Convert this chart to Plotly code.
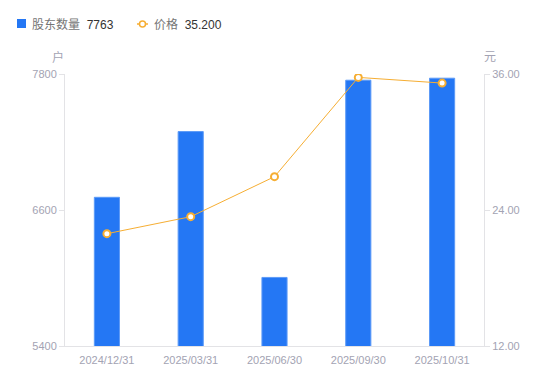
import plotly.graph_objects as go

categories = ["2024/12/31", "2025/03/31", "2025/06/30", "2025/09/30", "2025/10/31"]
holders = [6712, 7292, 6005, 7745, 7763]
price = [21.91, 23.41, 26.94, 35.70, 35.20]
left_ticks = [5400, 6600, 7800]
right_ticks = [12, 24, 36]
right_tick_labels = ["12.00", "24.00", "36.00"]

BLUE = "#2477F4"
ORANGE = "#F6AE33"
TICK = "#A3A3B3"
AXIS = "#E3E3E6"
FONT = "Liberation Sans, Arial, Noto Sans CJK SC, sans-serif"

fig = go.Figure()
fig.add_trace(go.Bar(
    x=categories, y=holders, name="股东数量", width=0.3,
    marker=dict(color=BLUE, line=dict(color="#5C9AF7", width=1)),
    yaxis="y", showlegend=False,
))
fig.add_trace(go.Scatter(
    x=categories, y=price, name="价格", mode="lines+markers",
    line=dict(color=ORANGE, width=1),
    marker=dict(symbol="circle", size=7, color="white", line=dict(color=ORANGE, width=2)),
    yaxis="y2", showlegend=False,
))

fig.update_layout(
    width=550, height=381,
    margin=dict(l=57, r=74, t=66, b=43),
    paper_bgcolor="white", plot_bgcolor="white",
    font=dict(family=FONT, size=11, color=TICK),
    xaxis=dict(
        type="category", showgrid=False, showline=True, linecolor=AXIS, linewidth=1,
        ticks="", tickfont=dict(size=11, color=TICK), ticklabelstandoff=4,
    ),
    yaxis=dict(
        range=[5400, 7800], tickvals=left_ticks, showgrid=False, zeroline=False,
        showline=True, linecolor=AXIS, linewidth=1, ticks="outside", ticklen=5,
        tickcolor=AXIS, tickfont=dict(size=11, color=TICK),
    ),
    yaxis2=dict(
        range=[12, 36], tickvals=right_ticks, ticktext=right_tick_labels,
        overlaying="y", side="right", showgrid=False, zeroline=False,
        showline=True, linecolor=AXIS, linewidth=1, ticks="outside", ticklen=5,
        tickcolor=AXIS, tickfont=dict(size=11, color=TICK),
    ),
)

# plot area in page pixels: x 65..484, y 74..346
def px(x):
    return (x - 65) / 419

def py(y):
    return (346 - y) / 272

# axis unit labels
fig.add_annotation(text="户", xref="paper", yref="paper", x=px(58), y=py(57),
                   showarrow=False, font=dict(size=12, color=TICK), xanchor="center", yanchor="middle")
fig.add_annotation(text="元", xref="paper", yref="paper", x=px(490), y=py(57),
                   showarrow=False, font=dict(size=12, color=TICK), xanchor="center", yanchor="middle")

# legend (top)
fig.add_shape(type="rect", xref="paper", yref="paper",
              x0=px(17), x1=px(26), y0=py(28), y1=py(19),
              fillcolor=BLUE, line=dict(width=0))
fig.add_annotation(text="<span style='color:#757575'>股东数量</span>  <span style='color:#333333'>7763</span>",
                   xref="paper", yref="paper", x=px(30), y=py(24),
                   showarrow=False, xanchor="left", yanchor="middle", font=dict(size=12))
fig.add_shape(type="line", xref="paper", yref="paper",
              x0=px(137), x1=px(148), y0=py(24), y1=py(24),
              line=dict(color=ORANGE, width=1.5))
fig.add_shape(type="circle", xref="paper", yref="paper",
              x0=px(139.5), x1=px(145.5), y0=py(27), y1=py(21),
              fillcolor="white", line=dict(color=ORANGE, width=1.5))
fig.add_annotation(text="<span style='color:#757575'>价格</span>  <span style='color:#333333'>35.200</span>",
                   xref="paper", yref="paper", x=px(152), y=py(24),
                   showarrow=False, xanchor="left", yanchor="middle", font=dict(size=12))

fig.write_html("out.html")
